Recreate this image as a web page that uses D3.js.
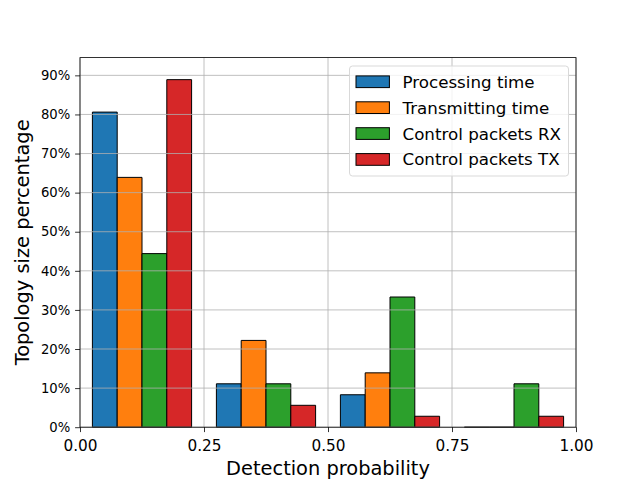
<!DOCTYPE html>
<html>
<head>
<meta charset="utf-8">
<script src="https://cdn.jsdelivr.net/npm/d3@7"></script>
<style>
  body { margin: 0; background: #fff; }
  text { font-family: "DejaVu Sans", sans-serif; fill: #000; }
</style>
</head>
<body>
<svg id="chart" width="640" height="480"></svg>
<script>
// bin left edges of the histogram (detection probability)
const binStarts = [0.0, 0.25, 0.5, 0.75];
const binWidth = 0.25;
const seriesNames = ["Processing time", "Transmitting time", "Control packets RX", "Control packets TX"];
const seriesColors = ["#1f77b4", "#ff7f0e", "#2ca02c", "#d62728"];
// share of topology size per bin
const processing = [0.806, 0.111, 0.083, 0.0];
const transmitting = [0.639, 0.222, 0.139, 0.0];
const controlRX = [0.444, 0.111, 0.333, 0.111];
const controlTX = [0.889, 0.056, 0.028, 0.028];
const xTicks = [0, 0.25, 0.5, 0.75, 1.0];
const yTicks = [0, 0.1, 0.2, 0.3, 0.4, 0.5, 0.6, 0.7, 0.8, 0.9];

const series = [processing, transmitting, controlRX, controlTX];

const svg = d3.select("#chart");
const margin = {left: 80, right: 64, top: 57.6, bottom: 52.8};
const W = 640, H = 480;

const x = d3.scaleLinear().domain([0, 1]).range([margin.left, W - margin.right]);
const y = d3.scaleLinear().domain([0, 0.9454]).range([H - margin.bottom, margin.top]);
// offsets of each series inside a bin (rwidth 0.8, like matplotlib)
const inner = d3.scaleBand().domain(seriesNames)
    .range([binWidth * 0.1, binWidth * 0.9]);

const plot = svg.append("g");

// bars
series.forEach((vals, si) => {
    plot.append("g").selectAll("path")
        .data(vals.map((v, i) => ({x0: binStarts[i] + inner(seriesNames[si]), v})))
        .join("path")
        .attr("d", d => {
            const x0 = x(d.x0), x1 = x(d.x0 + inner.bandwidth());
            const y0 = y(0), y1 = y(d.v);
            return `M${x0},${y0}H${x1}V${y1}H${x0}Z`;
        })
        .attr("fill", seriesColors[si])
        .attr("stroke", "#000")
        .attr("stroke-width", 1);
});

// grid on top of bars
const grid = svg.append("g").attr("stroke", "#b0b0b0").attr("stroke-width", 0.8);
grid.selectAll(".gx").data(xTicks).join("line")
    .attr("x1", d => x(d)).attr("x2", d => x(d))
    .attr("y1", y.range()[0]).attr("y2", y.range()[1]);
grid.selectAll(".gy").data(yTicks).join("line")
    .attr("x1", x.range()[0]).attr("x2", x.range()[1])
    .attr("y1", d => y(d)).attr("y2", d => y(d));

// axes
const xAxis = svg.append("g")
    .attr("transform", `translate(0,${y(0)})`)
    .call(d3.axisBottom(x).tickValues(xTicks).tickFormat(d3.format(".2f")).tickSizeOuter(0).tickSize(4.9).tickPadding(7.7));
xAxis.selectAll("text").style("font-size", "15.3px");

const yAxis = svg.append("g")
    .attr("transform", `translate(${x(0)},0)`)
    .call(d3.axisLeft(y).tickValues(yTicks).tickFormat(d3.format(".0%")).tickSizeOuter(0).tickSize(4.9).tickPadding(4.9));
yAxis.selectAll("text").style("font-size", "13.2px");

svg.selectAll(".domain").remove();
svg.selectAll(".tick line").attr("stroke", "#000").attr("stroke-width", 0.8);

// spines
svg.append("rect")
    .attr("x", x(0)).attr("y", y.range()[1])
    .attr("width", x(1) - x(0)).attr("height", y(0) - y.range()[1])
    .attr("fill", "none").attr("stroke", "#000").attr("stroke-width", 0.8);

// axis labels
svg.append("text")
    .attr("x", (x(0) + x(1)) / 2).attr("y", 475)
    .attr("text-anchor", "middle").style("font-size", "19.4px")
    .text("Detection probability");
svg.append("text")
    .attr("transform", `translate(29,${(y.range()[0] + y.range()[1]) / 2}) rotate(-90)`)
    .attr("text-anchor", "middle").style("font-size", "19.4px")
    .text("Topology size percentage");

// legend
const legend = svg.append("g");
legend.append("rect")
    .attr("x", 349.5).attr("y", 66).attr("width", 219).attr("height", 110)
    .attr("rx", 3).attr("fill", "#fff").attr("fill-opacity", 0.8)
    .attr("stroke", "#d9d9d9").attr("stroke-width", 1);
const rows = legend.selectAll(".row").data(seriesNames).join("g")
    .attr("transform", (d, i) => `translate(356,${81.7 + i * 25.9})`);
rows.append("rect")
    .attr("x", 0).attr("y", -5.8).attr("width", 33.4).attr("height", 11.7)
    .attr("fill", (d, i) => seriesColors[i]).attr("stroke", "#000").attr("stroke-width", 1);
rows.append("text")
    .attr("x", 46.5).attr("y", 6).style("font-size", "16.7px")
    .text(d => d);
</script>
</body>
</html>
